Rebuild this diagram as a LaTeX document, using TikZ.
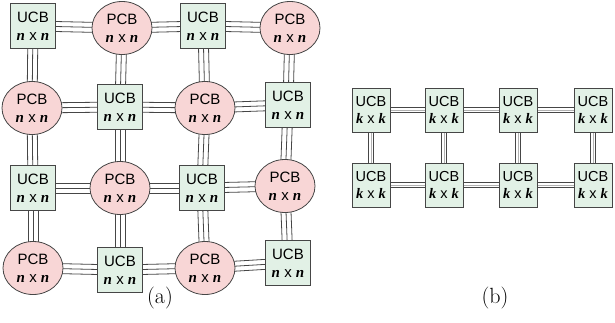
\documentclass[tikz,border=0pt]{standalone}
\usepackage{fontspec}
\setmainfont{Liberation Sans}
\newfontfamily\capfont{Latin Modern Roman}
\newfontfamily\nserif{Liberation Serif}
\usetikzlibrary{shapes.geometric,backgrounds}
\definecolor{ucbfill}{RGB}{226,241,230}
\definecolor{pcbfill}{RGB}{248,214,214}
\definecolor{edgegray}{RGB}{70,70,70}
\newcommand{\vn}[1]{{\nserif\bfseries\itshape #1}}
\tikzset{
  cell/.style={font=\fontsize{15}{18}\selectfont, align=center, draw=edgegray, line width=0.8pt, inner sep=0pt},
  ucb/.style={cell, rectangle, fill=ucbfill, minimum width=45pt, minimum height=45pt},
  ucbs/.style={cell, rectangle, fill=ucbfill, minimum width=38pt, minimum height=44pt, font=\fontsize{14.5}{17.5}\selectfont},
  pcb/.style={cell, ellipse, fill=pcbfill, minimum width=60pt, minimum height=53pt},
  rail/.style={draw=edgegray, line width=0.8pt},
  railfaint/.style={draw=gray!60, line width=0.6pt},
  caption/.style={font=\capfont\fontsize{22}{26}\selectfont}
}
\begin{document}
\begin{tikzpicture}[x=1pt,y=-1pt]
\useasboundingbox (0,0) rectangle (615,322);
% mesh of unit and processing blocks
\node[ucb] (a11) at (33,26)  {UCB\\\vn{n} x \vn{n}};
\node[pcb] (a12) at (122,28) {PCB\\\vn{n} x \vn{n}};
\node[ucb] (a13) at (203,26) {UCB\\\vn{n} x \vn{n}};
\node[pcb] (a14) at (290,28) {PCB\\\vn{n} x \vn{n}};
\node[pcb] (a21) at (32,108) {PCB\\\vn{n} x \vn{n}};
\node[ucb] (a22) at (120,107) {UCB\\\vn{n} x \vn{n}};
\node[pcb] (a23) at (205,108) {PCB\\\vn{n} x \vn{n}};
\node[ucb] (a24) at (288,105) {UCB\\\vn{n} x \vn{n}};
\node[ucb] (a31) at (33,188) {UCB\\\vn{n} x \vn{n}};
\node[pcb] (a32) at (120,188) {PCB\\\vn{n} x \vn{n}};
\node[ucb] (a33) at (202,188) {UCB\\\vn{n} x \vn{n}};
\node[pcb] (a34) at (285,186) {PCB\\\vn{n} x \vn{n}};
\node[pcb] (a41) at (33,268) {PCB\\\vn{n} x \vn{n}};
\node[ucb] (a42) at (120,270) {UCB\\\vn{n} x \vn{n}};
\node[pcb] (a43) at (205,268) {PCB\\\vn{n} x \vn{n}};
\node[ucb] (a44) at (288,263) {UCB\\\vn{n} x \vn{n}};
% two rows of small unit blocks
\foreach \c/\x in {1/371,2/444,3/518,4/593}{
  \node[ucbs] (b1\c) at (\x,110) {UCB\\\vn{k} x \vn{k}};
  \node[ucbs] (b2\c) at (\x,185) {UCB\\\vn{k} x \vn{k}};
}
\node[caption] (capa) at (160,298) {(a)};
\node[caption] (capb) at (495,298) {(b)};
\begin{pgfonlayer}{background}
  % triple rails in the mesh
  \foreach \r in {1,2,3,4}{
    \foreach \c/\e in {1/2,2/3,3/4}{
      \foreach \s in {-5,0,5}{
        \draw[rail] ([yshift=\s pt]a\r\c.center) -- ([yshift=\s pt]a\r\e.center);
        \draw[rail] ([xshift=\s pt]a\c\r.center) -- ([xshift=\s pt]a\e\r.center);
      }
    }
  }
  % paired rails in the small array
  \foreach \c/\e in {1/2,2/3,3/4}{
    \foreach \r in {1,2}{
      \draw[rail] ([yshift=2.6pt]b\r\c.center) -- ([yshift=2.6pt]b\r\e.center);
      \draw[rail] ([yshift=-2.6pt]b\r\c.center) -- ([yshift=-2.6pt]b\r\e.center);
      \draw[railfaint] (b\r\c.center) -- (b\r\e.center);
    }
  }
  \foreach \c in {1,2,3,4}{
    \draw[rail] ([xshift=2.6pt]b1\c.center) -- ([xshift=2.6pt]b2\c.center);
    \draw[rail] ([xshift=-2.6pt]b1\c.center) -- ([xshift=-2.6pt]b2\c.center);
    \draw[railfaint] (b1\c.center) -- (b2\c.center);
  }
\end{pgfonlayer}
\end{tikzpicture}
\end{document}
